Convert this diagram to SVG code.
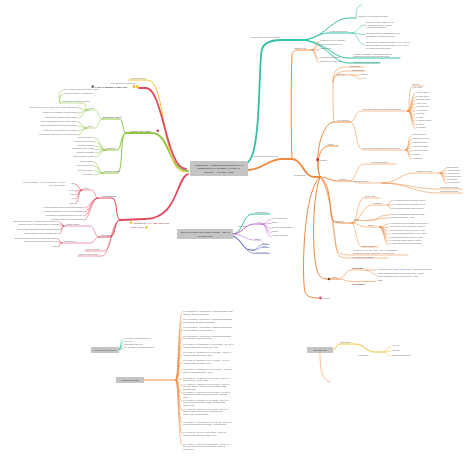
<svg xmlns="http://www.w3.org/2000/svg" width="474" height="457" viewBox="0 0 474 457">
<style>
.t{font-family:"Liberation Sans",Arial,sans-serif;font-size:2.1px;fill:#666}
.s{font-size:2.4px;fill:#444}
.m{font-size:2.4px;fill:#333}
.x{font-size:1.9px}
.b{font-weight:bold}
.e{text-anchor:end}
.c{text-anchor:middle}
.box{fill:#c4c4c4}
path{fill:none;stroke-linecap:round}
.gr{stroke:#8cc63e}
.rd{stroke:#e0485e}
.ye{stroke:#f3c536}
.tl{stroke:#35bfa4}
.or{stroke:#ee8a40}
.pu{stroke:#bb62cf}
.bl{stroke:#5a6ac6}
.w3{stroke-width:1.8}
.w2{stroke-width:1}
.w1{stroke-width:0.55}
</style>
<rect width="474" height="457" fill="#ffffff"/>
<g id="connectors">
<!-- green -->
<path class="gr w3" d="M188,171 C168,171 170,133 152,133 L126,133"/>
<path class="gr w2" d="M126,133 C122,133 124,119 119,119 L102,119"/>
<path class="gr w1" d="M102,119 C98,119 99,110 95,110 L88,110"/>
<path class="gr w1" d="M88,110 C83,110 83,108 78,108 M88,110 C83,110 83,113 78,113 M88,110 C83,110 83,118 78,118"/>
<path class="gr w1" d="M88,110 C85,110 86,103 83,103 L60,103 M60,103 C59,99 60,94.5 63,94.5 M60,103 C58,97 59,90.7 63,90.7"/>
<path class="gr w1" d="M102,119 C98,119 99,128 95,128 L87,128"/>
<path class="gr w1" d="M87,128 C82,128 83,122 78,122 M87,128 C82,128 83,126 78,126 M87,128 C82,128 83,131 78,131 M87,128 C82,128 83,135 78,135"/>
<path class="gr w2" d="M126,133 C120,133 122,150 117,150 L106,150"/>
<path class="gr w1" d="M106,150 C100,150 101,138 95,138 M106,150 C100,150 101,142 95,142 M106,150 C100,150 101,146 95,146 M106,150 C100,150 101,149.5 95,149.5 M106,150 C100,150 101,153 95,153 M106,150 C100,150 101,157 95,157"/>
<path class="gr w2" d="M126,133 C119,133 124,173 117,173 L103,173"/>
<path class="gr w1" d="M103,173 C98,173 99,162 94,162 M103,173 C98,173 99,166 94,166 M103,173 C98,173 99,171 94,171 M103,173 C98,173 99,175 94,175"/>
<!-- red / yellow top -->
<path class="ye w2" d="M184,172 C162,172 166,80 148,80 L128,80"/>
<path class="rd w3" d="M186,169 C166,169 163,88 146,88 L139,88"/>
<!-- red lower -->
<path class="rd w3" d="M188,174 C176,178 178,219 145,219 L120,220"/>
<path class="rd w2" d="M120,220 C115,220 118,198 112,198 L98,198"/>
<path class="rd w1" d="M98,198 C94,198 96,190 91,190 L82,190"/>
<path class="rd w1" d="M82,190 C78,190 79,184 75,184 M82,190 C78,190 79,191 75,191 M82,190 C78,190 79,195 75,195 M82,190 C78,190 79,199 75,199 M82,190 C78,190 79,204 75,204"/>
<path class="rd w1" d="M98,198 C91,198 90,208 84,208 M98,198 C91,198 90,212 84,212 M98,198 C91,198 90,216 84,216 M98,198 C91,198 90,220 84,220"/>
<path class="rd w2" d="M120,220 C114,220 116,237 110,237 L99,237"/>
<path class="rd w1" d="M99,237 C94,237 95,226 90,226 L64,226"/>
<path class="rd w1" d="M64,226 C61,226 62,222 60,222 M64,226 C61,226 62,225 60,225 M64,226 C61,226 62,230 60,230 M64,226 C61,226 62,234 60,234"/>
<path class="rd w1" d="M99,237 C94,237 95,243 90,243 L62,243"/>
<path class="rd w1" d="M62,243 C59,243 60,239 58,239 M62,243 C59,243 60,242 58,242 M62,243 C59,243 60,247 58,247"/>
<path class="rd w1" d="M120,220 C112,220 112,251 104,251 L85,251"/>
<path class="rd w1" d="M120,220 C111,220 110,256 102,256 L78,256"/>
<!-- teal top -->
<path class="tl w3" d="M246,163 C262,160 258,62 262,49 C264,43 270,40 282,40 L300,40"/>
<path class="tl w2" d="M300,40 C325,40 330,18 350,18 L356,18"/>
<path class="tl w1" d="M356,18 C356,10 357,5 362,5"/>
<path class="tl w2" d="M300,40 C316,40 318,33 328,33 L352,33"/>
<path class="tl w1" d="M352,33 C358,33 358,25 365,25 M352,33 C358,33 358,34.5 365,34.5 M352,33 C358,33 358,45 365,45"/>
<path class="tl w2" d="M300,40 C325,40 332,58 348,58 L400,58"/>
<path class="tl w2" d="M300,40 C325,40 332,63 348,63 L380,63"/>
<!-- orange -->
<path class="or w3" d="M248,170 C262,170 268,159 282,159 L292,159"/>
<path class="or w2" d="M292,159 C291,140 291,70 292,56 C292,52 294,50 298,50 L312,50"/>
<path class="or w1" d="M312,50 C316,50 315,41.7 319,41.7 M312,50 C316,50 315,45.7 319,45.7 M312,50 C316,50 315,49.7 319,49.7 M312,50 C316,50 315,58.7 319,58.7 M312,50 C316,50 315,62.7 319,62.7"/>
<path class="or w3" d="M292,159 C302,159 304,177 314,177 L320,177"/>
<path class="or w2" d="M320,177 C316,166 318,147 328,146 L338,146"/>
<path class="or w2" d="M320,177 C313,158 322,122 334,122 L350,122"/>
<path class="or w1" d="M334,122 C333,115 333,100 333,82 C333,72 336,67 346,67 L364,67 M333,82 C333,75 338,71 348,71 L365,71 M333,82 C333,78 335,75 340,75 L360,75 M352,75 C356,75 356,79 361,79"/>
<path class="or w1" d="M350,122 C356,122 354,111 362,111 L408,111"/>
<path class="or w1" d="M408,111 C411,111 407,86 413,86 L424,86"/>
<path class="or w1" d="M408,111 C412,111 411,93.5 415,93.5 M408,111 C412,111 411,97 415,97 M408,111 C412,111 411,100.5 415,100.5 M408,111 C412,111 411,104 415,104 M408,111 C412,111 411,107.5 415,107.5 M408,111 C412,111 411,111 415,111 M408,111 C412,111 411,114.5 415,114.5 M408,111 C412,111 411,118 415,118 M408,111 C412,111 411,121.5 415,121.5 M408,111 C412,111 411,125 415,125 M408,111 C412,111 411,128.5 415,128.5"/>
<path class="or w1" d="M350,122 C358,122 354,150 364,150 L406,150"/>
<path class="or w1" d="M406,150 C409,150 408,135.5 411,135.5 M406,150 C409,150 408,139.5 411,139.5 M406,150 C409,150 408,143.5 411,143.5 M406,150 C409,150 408,147.5 411,147.5 M406,150 C409,150 408,151.5 411,151.5 M406,150 C409,150 408,155.5 411,155.5 M406,150 C409,150 408,159 411,159"/>
<path class="or w2" d="M320,177 C328,177 330,181 338,181 L350,181"/>
<path class="or w1" d="M350,181 C356,181 356,164 364,164 L396,164"/>
<path class="or w1" d="M350,181 C354,181 356,183 360,183 L382,183"/>
<path class="or w1" d="M382,183 C398,183 400,173 414,173 L440,173"/>
<path class="or w1" d="M440,173 C443,173 443,168 446,168 M440,173 C443,173 443,171 446,171 M440,173 C443,173 443,174 446,174 M440,173 C443,173 443,177 446,177 M440,173 C443,173 443,180 446,180 M440,173 C443,173 443,183.5 446,183.5"/>
<path class="or w1" d="M382,183 C405,183 415,189 438,189 L462,189 M382,183 C405,183 415,193 438,193 L462,193"/>
<path class="or w2" d="M320,177 C330,182 330,205 331,215 C332,221 335,223 341,223 L352,223"/>
<path class="or w1" d="M352,223 C358,223 357,198 364,198 L380,198"/>
<path class="or w1" d="M352,223 C360,223 362,205 372,205 L388,205"/>
<path class="or w1" d="M388,205 C389.5,205 389,201 391,201 M388,205 L391,205 M388,205 C389.5,205 389,209 391,209"/>
<path class="or w1" d="M352,223 C354,223 354,220.5 356,220.5 L367,220.5 M367,220.5 C378,220.5 378,215 389,215 M367,220.5 C378,220.5 378,218 389,218"/>
<path class="or w1" d="M352,223 C358,223 360,227 366,227 L380,227"/>
<path class="or w1" d="M380,227 C384,227 384,224 388,224 M380,227 L388,227.5 M380,227 C384,227 384,231 388,231 M380,227 C384,227 384,234.5 388,234.5 M380,227 C384,227 384,238 388,238 M380,227 C384,227 384,241.5 388,241.5 M380,227 C384,227 384,244.5 388,244.5"/>
<path class="or w1" d="M352,223 C356,223 356,247 362,247 L378,247"/>
<path class="or w1" d="M320,177 C332,188 333,242 337,250 C339,254 343,255 352,255 L408,255"/>
<path class="or w1" d="M320,177 C334,192 334,252 339,256 C342,258 346,258 352,258 L388,258"/>
<path class="or w2" d="M320,177 C311,200 312,266 319,275 C322,279 325,279 329,279 L338,279"/>
<path class="or w1" d="M338,279 C345,279 345,270 352,270 L366,270 M366,270 L376,270 M366,270 C371,270 371,274.5 376,274.5"/>
<path class="or w1" d="M338,279 C345,279 345,281.5 352,281.5 L368,281.5 L376,281.5"/>
<path class="or w2" d="M320,177 C302,192 302,282 305,292 C307,297 312,298 319,298"/>
<!-- purple / blue -->
<path class="tl w2" d="M233,234 C243,234 243,214 252,214 L270,214"/>
<path class="pu w2" d="M233,234 C242,234 245,224 254,224 L262,224"/>
<path class="pu w1" d="M262,224 C267,224 266,219.5 271,219.5 M262,224 C267,224 266,223.5 271,223.5 M262,224 C267,224 266,228.5 271,228.5 M262,224 C267,224 266,232.5 271,232.5 M262,224 C267,224 266,236.5 271,236.5"/>
<path class="pu w1" d="M233,234 C242,234 246,240 254,240 L262,240"/>
<path class="bl w2" d="M233,236 C241,238 243,250 250,250 L254,250"/>
<path class="bl w1" d="M254,250 C258,250 258,244.5 262,244.5 L269,244.5 M254,250 C258,250 258,247.5 262,247.5 L269,247.5"/>
<path class="bl w1" d="M233,236 C242,240 246,253.5 254,253.5 L270,253.5"/>
<!-- bottom left -->
<path class="tl w1" d="M119,350 C121,350 120,339.5 123,339.5 M119,350 C121,350 120,342.3 123,342.3 M119,350 C121,350 120,345.6 123,345.6 M119,350 C121,350 120,348.6 123,348.6"/>
<path class="or w2" d="M144,380 L176,380"/>
<path class="or w1" d="M176,380 C179,380 178,312.4 182,312.4 M176,380 C179,380 178,320.4 182,320.4 M176,380 C179,380 178,328.7 182,328.7 M176,380 C179,380 178,337.1 182,337.1 M176,380 C179,380 178,345.4 182,345.4 M176,380 C179,380 178,353.7 182,353.7 M176,380 C179,380 178,361.7 182,361.7 M176,380 C179,380 178,370.4 182,370.4 M176,380 C179,380 178,378.9 182,378.9 M176,380 C179,380 178,385.4 182,385.4 M176,380 C179,380 178,393.4 182,393.4 M176,380 C179,380 178,401.4 182,401.4 M176,380 C179,380 178,410.4 182,410.4 M176,380 C179,380 178,423.1 182,423.1 M176,380 C179,380 178,433.7 182,433.7 M176,380 C179,380 178,445.4 182,445.4"/>
<!-- bottom right -->
<path class="ye w2" d="M333,350 C336,350 336,344 340,344 L355,344 C365,344 365,352 375,352 L383,352"/>
<path class="ye w1" d="M383,352 C387,352 387,346.5 391,346.5 M383,352 C387,352 387,351 391,351 M383,352 C387,352 387,356 391,356"/>
<path class="or w1" d="M320,353 C320,370 322,380 330,382"/>
</g>

<g id="n-center">
<rect class="box" x="190" y="161" width="58" height="15" rx="0.5"/>
<text class="t m c" x="219" y="165.5">PENGELOLAAN BENDUNG PENINGKATAN</text>
<text class="t m c" x="219" y="169.3">BENDUNG IRIGASI SERTA JARINGAN</text>
<text class="t m c" x="219" y="173.1">SURVEY - APPLIED - 2021</text>
</g>

<g id="n-green">
<text class="t s" x="130" y="131.8">Kondisi Fisik (2021)</text>
<rect x="156.5" y="129.5" width="2.5" height="2.5" fill="#d9507a"/>
<g id="n-g1"><text class="t s" x="103" y="118.2">Bangunan Utama</text>
<text class="t" x="88.5" y="109.3">Mercu</text>
<text class="t e" x="77" y="107.6">Tinggi mercu 2,5 m, lebar 45 m, kondisi baik cukup</text>
<text class="t e" x="77" y="112.6">Lantai hilir mengalami gerusan ringan</text>
<text class="t e" x="77" y="117.6">Tubuh mercu terdapat retak rambut</text>
<text class="t" x="63" y="102.4">Bangunan pelengkap lainnya</text>
<text class="t" x="63.5" y="90.3">Sdr. Kepala UPTD Dinas PSDA (2021)</text>
<text class="t" x="63.5" y="94.1">Jembatan inspeksi, rumah jaga</text>
<text class="t" x="88" y="127.3">Pintu</text>
<text class="t e" x="77" y="121.6">Pintu pengambilan kanan kondisi rusak</text>
<text class="t e" x="77" y="125.6">Pintu penguras bendung tidak berfungsi</text>
<text class="t e" x="77" y="130.6">Stang ulir pintu berkarat (perlu ganti)</text>
<text class="t e" x="77" y="134.6">Rumah pintu atap bocor, cat mengelupas</text></g>
<g id="n-g2"><text class="t s" x="107" y="149.3">Saluran</text>
<text class="t e" x="94" y="137.6">Saluran induk kiri</text>
<text class="t e" x="94" y="141.6">Saluran induk kanan</text>
<text class="t e" x="94" y="145.6">Saluran sekunder</text>
<text class="t e" x="94" y="149.1">Bangunan bagi / sadap</text>
<text class="t e" x="94" y="152.6">Saluran pembuang</text>
<text class="t e" x="94" y="156.6">Jalan inspeksi saluran</text></g>
<g id="n-g3"><text class="t s" x="104" y="172.3">Kondisi Fungsi</text>
<text class="t e" x="93" y="161.6">Debit andalan</text>
<text class="t e" x="93" y="165.6">Areal layanan (Ha)</text>
<text class="t e" x="93" y="170.6">Intensitas tanam</text>
<text class="t e" x="93" y="174.6">Pola tanam</text></g>
</g>

<g id="n-last">
<rect x="91.5" y="85.4" width="2.4" height="2.4" fill="#666"/>
<text class="t m b" x="95" y="87.7">LAST IT SERIES CAMPAIGN</text>
<circle cx="134" cy="86.6" r="1.3" fill="#f0a030"/>
<rect x="136" y="85.4" width="2.4" height="2.4" fill="#f5c400"/>
<text class="t x" x="110" y="83.6">Lihat data terbaru di lapangan</text>
<text class="t" x="131" y="78.5">Sekolah lapang</text>
</g>

<g id="n-aset">
<circle cx="131" cy="222.6" r="1.2" fill="#f2b21b"/>
<text class="t s" x="133.5" y="223.6" style="fill:#a33">PENGELOLAAN ASET SERVICE</text>
<text class="t s" x="131" y="228.2" style="fill:#a33">2020 - 2021</text>
<circle cx="146.5" cy="227.4" r="1.2" fill="#f2b21b"/>
<g id="n-r1"><text class="t s" x="101" y="197.2">Aset Terdaftar</text>
<text class="t" x="83" y="189.3">Tanah</text>
<text class="t e" x="74" y="183.6">Ada</text>
<text class="t e x" x="65" y="182.8">1. SHM No.12/2019 - 2. SHM No.13/2019 - 3. SHM</text>
<text class="t e x" x="65" y="185.6">No.14/2019 (BPN)</text>
<text class="t e" x="74" y="190.6">SHM</text>
<text class="t e" x="74" y="194.6">HGB</text>
<text class="t e" x="74" y="198.6">HP</text>
<text class="t e" x="74" y="203.6">Girik</text>
<text class="t e" x="83" y="207.6">Kantor pengamat dan rumah jaga bendung</text>
<text class="t e" x="83" y="211.6">Gudang peralatan operasi &amp; pemeliharaan</text>
<text class="t e" x="83" y="215.6">Kendaraan operasional roda dua (2 unit)</text>
<text class="t e" x="83" y="219.6">Peralatan kantor dan perlengkapan</text></g>
<g id="n-r2"><text class="t s" x="100" y="236.3">Aset Rusak</text>
<text class="t" x="66" y="225.3">Rusak Ringan</text>
<text class="t e" x="59" y="221.6">Bencana alam 2019 - longsor tebing saluran km 1</text>
<text class="t e" x="59" y="224.6">Saluran tersier tertimbun sedimen / sampah</text>
<text class="t e" x="59" y="229.6">Pintu sadap rusak akibat banjir bandang 2020</text>
<text class="t e" x="59" y="233.6">Tanggul saluran jebol sepanjang 25 m</text>
<text class="t" x="64" y="242.3">Rusak Berat</text>
<text class="t e" x="57" y="238.6">Bendung rusak berat perlu rehabilitasi segera</text>
<text class="t e" x="57" y="241.6">Dinding penahan tanah runtuh 30 m</text>
<text class="t e" x="57" y="246.6">Jalan</text></g>
<text class="t" x="86" y="250.4">Belum tercatat</text>
<text class="t" x="79" y="255.4">Dalam proses hibah</text>
</g>

<g id="n-teal">
<text class="t" x="251" y="38.3">Materialisasi dokumen kegiatan</text>
<text class="t" x="358" y="17.3">Dokumen kelengkapan kegiatan</text>
<text class="t" x="330" y="31.9">Syarat administrasi</text>
<text class="t x" x="366" y="23">Dokumen teknis: 1. DED 2. RAB</text>
<text class="t x" x="366" y="25.6">3. Spesifikasi teknis 4. Gambar</text>
<text class="t x" x="366" y="28.2">5. Dokumen lingkungan</text>
<text class="t x" x="366" y="34">Dokumen kontrak pelaksanaan fisik dan</text>
<text class="t x" x="366" y="36.8">pengawasan (konsultan supervisi)</text>
<text class="t x" x="366" y="43.2">Laporan harian, mingguan, bulanan, MC-0, MC-100,</text>
<text class="t x" x="366" y="45.9">as built drawing, foto dokumentasi 0%, 50%, 100%</text>
<text class="t x" x="366" y="48.6">dan berita acara serah terima</text>
<text class="t" x="353" y="54.6">Kontrak pengadaan - pekerjaan konstruksi</text>
<text class="t" x="353" y="57.4">rehabilitasi bendung dan jaringan irigasi</text>
<text class="t" x="353" y="62.5">Addendum kontrak (jika ada)</text>
</g>

<g id="n-orange">
<text class="t" x="253" y="157.4">Rencana Pengelolaan Aset</text>
<g id="n-jadwal"><text class="t" x="294" y="49.4">Jadwal Kerja</text>
<text class="t x" x="320" y="41.3">Persiapan &amp; survey lapangan</text>
<text class="t x" x="320" y="45.3">Penyusunan DED &amp; RAB</text>
<text class="t x" x="320" y="49.3">Proses lelang</text>
<text class="t x" x="320" y="58.3">Pelaksanaan konstruksi</text>
<text class="t x" x="320" y="62.3">Serah terima (PHO/FHO)</text></g>
<text class="t" x="293" y="176.4">Aset Bendung</text>
<rect x="316.3" y="158.3" width="2.6" height="2.6" fill="#d0352f"/>
<text class="t x" x="320" y="160.8">Catatan</text>
<text class="t x" x="328" y="145.4">Tahap I</text>
<g id="n-inv"><text class="t" x="337" y="121.4">Inventarisasi</text>
<text class="t x" x="350" y="66.5">Data teknis</text>
<text class="t x" x="352" y="70.5">Data hidrologi</text>
<text class="t x" x="337" y="74.5">Dokumen</text>
<text class="t x" x="361" y="74.5">Gambar</text>
<text class="t x" x="362" y="78.7">Foto</text>
<text class="t x" x="363" y="110.4">Data aset bendung di lokasi (BMN/Non BMN)</text>
<text class="t x" x="412" y="85.4">Bendung</text>
<text class="t x" x="413" y="88.4">Tipe: tetap</text>
<text class="t x" x="416" y="93.2">1. Lebar mercu</text>
<text class="t x" x="416" y="96.7">2. Tinggi mercu</text>
<text class="t x" x="416" y="100.2">3. Elevasi mercu</text>
<text class="t x" x="416" y="103.7">4. Tipe pintu</text>
<text class="t x" x="416" y="107.2">5. Jumlah pintu</text>
<text class="t x" x="416" y="110.7">6. Kolam olak</text>
<text class="t x" x="416" y="114.2">7. Saluran</text>
<text class="t x" x="416" y="117.7">8. Intake</text>
<text class="t x" x="416" y="121.2">9. Kantong lumpur</text>
<text class="t x" x="416" y="124.7">10. Sayap</text>
<text class="t x" x="416" y="128.2">11. Tanggul</text>
<text class="t x" x="363" y="149.4">Data jaringan irigasi &amp; bangunan pelengkap</text>
<text class="t x" x="412" y="135.2">1. Saluran induk</text>
<text class="t x" x="412" y="139.2">2. Saluran sekunder</text>
<text class="t x" x="412" y="143.2">3. Bangunan bagi</text>
<text class="t x" x="412" y="147.2">4. Bangunan sadap</text>
<text class="t x" x="412" y="151.2">5. Gorong-gorong</text>
<text class="t x" x="412" y="155.2">6. Talang</text>
<text class="t x" x="412" y="158.7">7. Jembatan</text></g>
<g id="n-op"><text class="t" x="339" y="180.4">Operasi</text>
<text class="t x" x="371" y="163.4">Rencana tata tanam</text>
<text class="t x" x="353" y="182.4">Pemeliharaan rutin</text>
<text class="t x" x="416" y="172.4">Kegiatan 1, 2, 3 dst</text>
<text class="t x" x="447" y="167.7">Babat rumput</text>
<text class="t x" x="447" y="170.7">Angkat sedimen</text>
<text class="t x" x="447" y="173.7">Perbaikan kecil</text>
<text class="t x" x="447" y="176.7">Pelumasan pintu</text>
<text class="t x" x="447" y="179.7">Pengecatan</text>
<text class="t x" x="447" y="183.2">Bersih sampah</text>
<text class="t x" x="440" y="188.4">Pemeliharaan berkala</text>
<text class="t x" x="440" y="192.4">Pemeliharaan darurat</text></g>
<g id="n-reh"><text class="t" x="333" y="222.4">Rehabilitasi</text>
<text class="t x" x="365" y="197.4">Survey awal</text>
<text class="t x" x="373" y="204.4">Identifikasi</text>
<text class="t x" x="391.5" y="200.7">1.1 Kerusakan mercu bendung (lokasi 1)</text>
<text class="t x" x="391.5" y="204.7">1.2 Kerusakan pintu pengambilan (lok. 2)</text>
<text class="t x" x="391.5" y="208.7">1.3 Kerusakan saluran induk (lokasi 3)</text>
<text class="t x" x="354" y="219.9">Tahap I</text>
<text class="t x" x="390" y="214.7">Desain: pengadaan jasa konsultan (DED)</text>
<text class="t x" x="390" y="217.7">perencana rehabilitasi - 2021</text>
<text class="t x" x="368" y="226.4">Tahap II</text>
<text class="t x" x="389" y="223.7">II.1 Perbaikan mercu bendung (lokasi 1) 2021</text>
<text class="t x" x="389" y="227.2">II.2 Perbaikan pintu pengambilan (lokasi 2)</text>
<text class="t x" x="389" y="230.7">II.3 Lining saluran induk km 0+000 - 1+500</text>
<text class="t x" x="389" y="234.2">II.4 Rehab bangunan bagi BS.1 - BS.4 (2021)</text>
<text class="t x" x="389" y="237.7">II.5 Normalisasi saluran sekunder (2021)</text>
<text class="t x" x="389" y="241.2">II.6 Perbaikan tanggul saluran (lokasi 4)</text>
<text class="t x" x="389" y="244.2">II.7 Jalan inspeksi saluran induk (2021)</text>
<text class="t x" x="362" y="246.5">Tahap III 2022</text></g>
<text class="t x" x="353" y="251.2">Pengelolaan oleh P3A / GP3A / IP3A (kerjasama OP)</text>
<text class="t x" x="353" y="254.4">dengan Dinas PSDA Kabupaten / Provinsi (2021)</text>
<text class="t x" x="353" y="257.6">Evaluasi kinerja jaringan</text>
<g id="n-status"><circle cx="329" cy="279" r="1.3" fill="#6b4a2b"/>
<text class="t x" x="331.5" y="278.4">Status</text>
<text class="t b" x="352" y="269" style="font-size:2.5px;fill:#5a3a1a">EXISTING</text>
<text class="t x" x="377" y="269.6">• Luas baku sawah <tspan fill="#3a6fd0">1.250 Ha (data 2020)</tspan> - intensitas tanam 200%</text>
<text class="t x" x="377" y="274.2">• Debit andalan 2,5 m3/dt, saluran induk 12 km - kondisi</text>
<text class="t x" x="377" y="276.8">sedang, sebagian bocor (perlu perbaikan) - 2020</text>
<text class="t b" x="352" y="284.8" style="font-size:2.5px;fill:#5a3a1a">PLANNING</text>
<text class="t x" x="377" y="281.3">• 2022</text></g>
<circle cx="320.5" cy="298" r="1.4" fill="#d64d8c"/>
<text class="t x" x="323" y="298.7">Lainnya</text>
</g>

<g id="n-struktur">
<rect class="box" x="177" y="229" width="56" height="10" rx="0.5"/>
<text class="t m c" x="205" y="233.2" style="font-size:2.2px">STRUKTUR ORGANISASI BIDANG SDA - DINAS</text>
<text class="t m c" x="205" y="236.8" style="font-size:2.2px">PU PROVINSI</text>
<text class="t x" x="255" y="213.4">Kepala Bidang</text>
<text class="t x" x="238" y="227.3">Sekretariat</text>
<text class="t x" x="257" y="223.4">Kasi</text>
<text class="t x" x="272" y="219.3">Perencanaan SDA</text>
<text class="t x" x="272" y="223.3">Irigasi</text>
<text class="t x" x="272" y="228.3">Operasi &amp; pemeliharaan</text>
<text class="t x" x="272" y="232.3">Sungai</text>
<text class="t x" x="272" y="236.3">• Pengelolaan aset</text>
<text class="t x" x="255" y="239.5">Staf</text>
<text class="t x" x="248" y="249.5">UPT</text>
<text class="t x" x="262" y="244.1">Staf 1</text>
<text class="t x" x="262" y="247.1">Staf 2</text>
<text class="t x" x="255" y="253.1">Juru pengairan</text>
</g>

<g id="n-kawasan">
<rect class="box" x="91" y="347" width="28" height="6" rx="0.5"/>
<text class="t m c" x="105" y="351" style="font-size:2px">KAWASAN TANAH 1.1.1</text>
<text class="t x" x="124" y="339.3">Luas 283,13 m2 Sertifikat (SHM)</text>
<text class="t x" x="124" y="342.1">Hak Pakai</text>
<text class="t x" x="124" y="345.4">Luas 382,75 m2 (girik)</text>
<text class="t x" x="124" y="348.4">No. 123/2021 Kelurahan Subang Ilir</text>
</g>

<g id="n-inventaris">
<rect class="box" x="116" y="377" width="28" height="6" rx="0.5"/>
<text class="t m c" x="130" y="381" style="font-size:2px">INVENTARIS 1.1.2</text>
<g class="t x">
<text x="183" y="312">Prov. Jawa Barat - Kab. Subang, Kecamatan Cisalak, Desa</text>
<text x="183" y="314.5">Cigadog - Bendung Cikandung</text>
<text x="183" y="320">Prov. Jawa Barat - Kab. Subang, Kecamatan Tanjungsiang,</text>
<text x="183" y="322.5">Desa Cibuluh - Bendung Cipunagara</text>
<text x="183" y="328.3">Prov. Jawa Barat - Kab. Subang, Kecamatan Kasomalang,</text>
<text x="183" y="330.8">Desa Sindangsari - Bendung Cileat</text>
<text x="183" y="336.7">Prov. Jawa Barat - Kab. Subang, Kecamatan Jalancagak,</text>
<text x="183" y="339.2">Desa Bunihayu - Bendung Ciasem</text>
<text x="183" y="345">Prov. Jabar, D.I. Leuwinangka 1.1.1.12 (Rehab) - 120,45 Ha</text>
<text x="183" y="347.5">Jaringan irigasi teknis, kondisi baik - 2021</text>
<text x="183" y="353.3">Prov. Jabar, D.I. Cikandung 1.1.1.13 (Rehab) - 187,20 Ha</text>
<text x="183" y="355.8">Jaringan irigasi semi teknis - 2021</text>
<text x="183" y="361.3">Prov. Jabar, D.I. Sukamaju 1.1.1.14 (Rehab) - 96,00 Ha</text>
<text x="183" y="363.8">Jaringan irigasi sederhana - 2021</text>
<text x="183" y="370">Prov. Jabar, D.I. Cipeundeuy 1.1.1.15 (Rehab) - 210,35 Ha</text>
<text x="183" y="372.5">Saluran induk dan sekunder - 2021</text>
<text x="183" y="378.5">Prov. Jabar, D.I. Cilamaya 1.1.1.16 (Rehab) - 310,00 Ha</text>
<text x="183" y="381">Bendung tetap, 2 pintu - 2022</text>
<text x="183" y="385">Prov. Jabar, D.I. Cigadung 1.1.1.17 (Rehab) - 75,50 Ha,</text>
<text x="183" y="387.4">bendung, saluran, bangunan bagi dan sadap (2022) -</text>
<text x="183" y="389.8">Sertifikat tanah</text>
<text x="183" y="393">Prov. Jabar, D.I. Ciherang 1.1.1.18 (Rehab) - 140,25 Ha,</text>
<text x="183" y="395.4">bendung dan jaringan irigasi teknis (2022) - Sertifikat</text>
<text x="183" y="397.8">tanah</text>
<text x="183" y="401">Prov. Jabar, D.I. Cibodas 1.1.1.19 (Rehab) - 88,00 Ha,</text>
<text x="183" y="403.4">saluran tersier dan kuarter (2022) - Sertifikat tanah</text>
<text x="183" y="405.8">dalam proses</text>
<text x="183" y="410">Prov. Jabar, D.I. Ciasem 1.1.1.20 (Rehab) - 256,40 Ha -</text>
<text x="183" y="412.4">jaringan irigasi teknis, pintu air, bangunan bagi /</text>
<text x="183" y="414.8">sadap (2022) - Sertifikat tanah</text>
<text x="183" y="422.7">Prov. Jabar, D.I. Cipunagara 1.1.1.21 (Rehab) - 320,10 Ha</text>
<text x="183" y="425.1">bendung dan saluran induk (2022) - Sertifikat tanah</text>
<text x="183" y="433.3">Prov. Jabar, D.I. Cileat 1.1.1.22 (Rehab) - 65,80 Ha -</text>
<text x="183" y="435.7">jaringan irigasi sederhana (2022) - Girik</text>
<text x="183" y="445">Prov. Jabar, D.I. Cibuluh 1.1.1.23 (Rehab) - 110,00 Ha -</text>
<text x="183" y="447.4">bendung, saluran dan bangunan (2022) - Sertifikat</text>
<text x="183" y="449.8">tanah (SHM)</text>
</g>
</g>

<g id="n-ptn">
<rect class="box" x="307" y="347" width="26" height="6" rx="0.5"/>
<text class="t m c" x="320" y="351" style="font-size:2px">PTN SUBANG</text>
<text class="t x" x="340" y="343.3">Lahan tanah</text>
<text class="t x" x="358" y="355.6">Kepemilikan</text>
<text class="t x" x="392" y="346.2">Akte jual</text>
<text class="t x" x="392" y="350.7">Sertifikat</text>
<text class="t x" x="392" y="355.7">Belum ada data tanah</text>
</g>
</svg>
